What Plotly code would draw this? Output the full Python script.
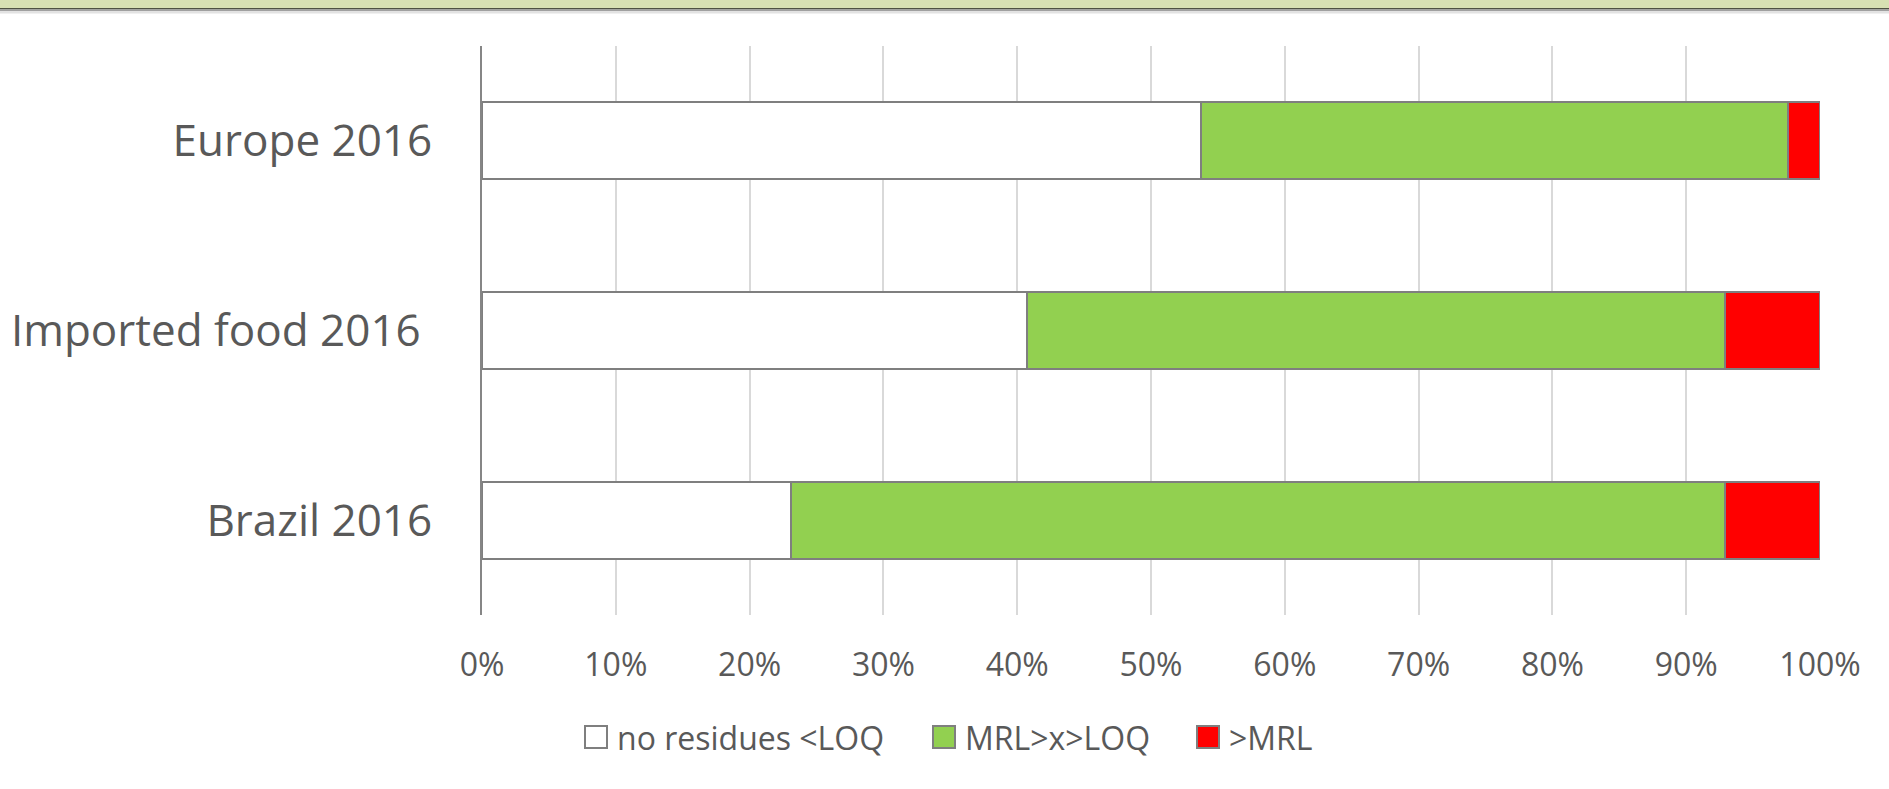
import plotly.graph_objects as go

# ---- data -------------------------------------------------------------
categories = ["Europe 2016", "Imported food 2016\u00a0", "Brazil 2016"]
series_names = ["no residues <LOQ", "MRL>x>LOQ", ">MRL"]
no_residues = [53.7, 40.7, 23.1]
between_loq_mrl = [43.9, 52.2, 69.8]
above_mrl = [2.4, 7.1, 7.1]
tick_values = [0, 10, 20, 30, 40, 50, 60, 70, 80, 90, 100]
tick_labels = ["0%", "10%", "20%", "30%", "40%", "50%", "60%", "70%", "80%", "90%", "100%"]

# ---- styling ----------------------------------------------------------
series_colors = ["#ffffff", "#92d050", "#ff0000"]
outline = "#7f7f7f"
text_grey = "#595959"
font_family = "Open Sans"

W, H = 1889, 789
L, R, T, B = 482, 69, 46, 174
plot_w = W - L - R
plot_h = H - T - B


def paper_x(px):
    return (px - L) / plot_w


def paper_y(py):
    return (H - B - py) / plot_h


fig = go.Figure()
for name, values, color in zip(series_names, [no_residues, between_loq_mrl, above_mrl], series_colors):
    fig.add_trace(go.Bar(
        y=categories,
        x=values,
        name=name,
        orientation="h",
        marker=dict(color=color, line=dict(color=outline, width=2)),
        showlegend=False,
    ))

fig.update_layout(
    width=W,
    height=H,
    barmode="stack",
    barnorm="percent",
    bargap=0.595,
    plot_bgcolor="#ffffff",
    paper_bgcolor="#ffffff",
    margin=dict(l=L, r=R, t=T, b=B, pad=0),
    font=dict(family=font_family, color=text_grey),
)

fig.update_xaxes(
    range=[0, 100],
    tickmode="array",
    tickvals=tick_values,
    ticktext=tick_labels,
    showgrid=True,
    gridcolor="#d9d9d9",
    gridwidth=2,
    zeroline=False,
    showline=False,
    ticks="",
    tickfont=dict(size=32, color=text_grey, family=font_family),
    ticklabelstandoff=28,
)

fig.update_yaxes(
    categoryorder="array",
    categoryarray=categories,
    autorange="reversed",
    showgrid=False,
    zeroline=False,
    showline=True,
    linecolor="#868686",
    linewidth=2,
    ticks="",
    tickfont=dict(size=44, color=text_grey, family=font_family),
    ticklabelstandoff=39,
)

# ---- header band across the top of the page ----------------------------
header = [
    (0, 8, "#d8e1b3"),
    (8, 9.6, "#4f5242"),
    (9.6, 11.2, "#a0a0a0"),
    (11.2, 13.5, "#e2e2e2"),
]
for top, bottom, color in header:
    fig.add_shape(
        type="rect", xref="paper", yref="paper",
        x0=paper_x(-5), x1=paper_x(W + 5),
        y0=paper_y(bottom), y1=paper_y(top),
        fillcolor=color, line=dict(width=0), layer="above",
    )

# ---- legend row below the axis -----------------------------------------
legend_box_left = [585, 933, 1197]
legend_center_y = 737
box = 22
for name, color, left in zip(series_names, series_colors, legend_box_left):
    fig.add_shape(
        type="rect", xref="paper", yref="paper",
        x0=paper_x(left), x1=paper_x(left + box),
        y0=paper_y(legend_center_y + box / 2), y1=paper_y(legend_center_y - box / 2),
        fillcolor=color, line=dict(color=outline, width=2),
    )
    fig.add_annotation(
        xref="paper", yref="paper",
        x=paper_x(left + box + 8), y=paper_y(legend_center_y),
        xanchor="left", yanchor="middle",
        text=name, showarrow=False,
        font=dict(size=32, color=text_grey, family=font_family),
    )

fig.write_html("out.html")
